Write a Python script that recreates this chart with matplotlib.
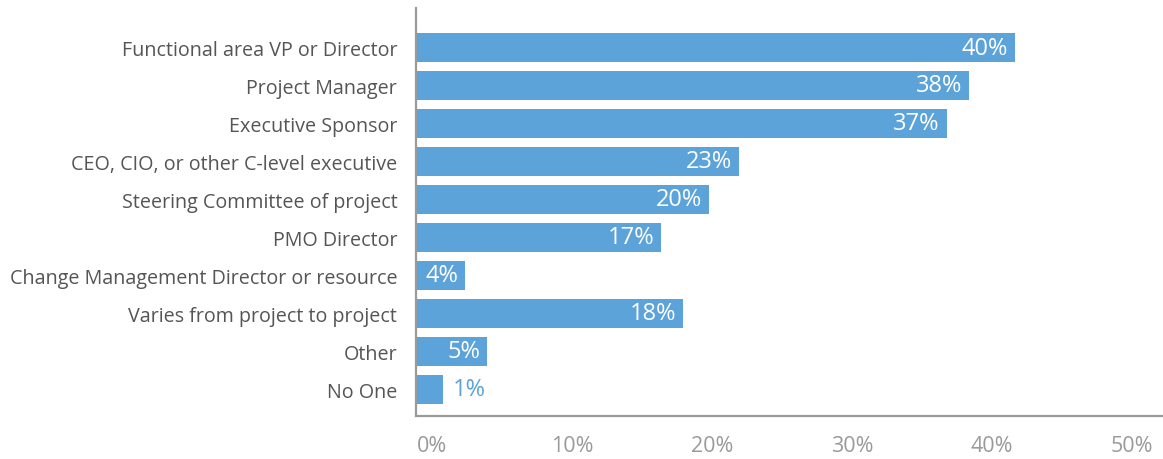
import matplotlib
matplotlib.use("Agg")
import matplotlib.pyplot as plt

categories = ["Functional area VP or Director", "Project Manager", "Executive Sponsor",
              "CEO, CIO, or other C-level executive", "Steering Committee of project",
              "PMO Director", "Change Management Director or resource",
              "Varies from project to project", "Other", "No One"]
# bar lengths as drawn (in %), and the printed labels
values = [42.8, 39.5, 37.9, 23.1, 20.9, 17.5, 3.5, 19.1, 5.1, 1.9]
labels = [40, 38, 37, 23, 20, 17, 4, 18, 5, 1]
xticks = [0, 10, 20, 30, 40, 50]

bar_color = "#5ba3d9"
grey = "#9a9a9a"
plt.rcParams["font.family"] = ["Open Sans", "DejaVu Sans"]

fig = plt.figure(figsize=(11.63, 4.6), dpi=100)
ax = fig.add_axes([416/1163, 1-417/460, 1-416/1163, (417-9)/460])

ypos = list(range(len(categories)))
ax.barh(ypos, values, height=0.76, color=bar_color)

for y, v, lab in zip(ypos, values, labels):
    if v < 3:
        ax.annotate(f"{lab}%", (v, y), xytext=(7, 0), textcoords="offset points",
                    ha="left", va="center", color=bar_color, fontsize=17)
    else:
        ax.annotate(f"{lab}%", (v, y), xytext=(-5, 0), textcoords="offset points",
                    ha="right", va="center", color="white", fontsize=17)

ax.set_yticks(ypos)
ax.set_yticklabels(categories, fontsize=14.2, color="#555555")
ax.set_ylim(9.7, -1.04)
ax.set_xlim(0, 53.36)

# x tick labels sit a bit right of their ticks in the original
ax.set_xticks(xticks)
ax.set_xticklabels([])
for t in xticks:
    ax.annotate(f"{t}%", (t, 0), xycoords=("data", "axes fraction"),
                xytext=(11.5, -21), textcoords="offset points",
                ha="center", va="center", fontsize=15.5, color=grey)

ax.tick_params(axis="both", length=0)
ax.tick_params(axis="y", pad=13.5)
for s in ["top", "right"]:
    ax.spines[s].set_visible(False)
for s in ["left", "bottom"]:
    ax.spines[s].set_color(grey)
    ax.spines[s].set_linewidth(1.6)

fig.savefig("out.png", dpi=100)
